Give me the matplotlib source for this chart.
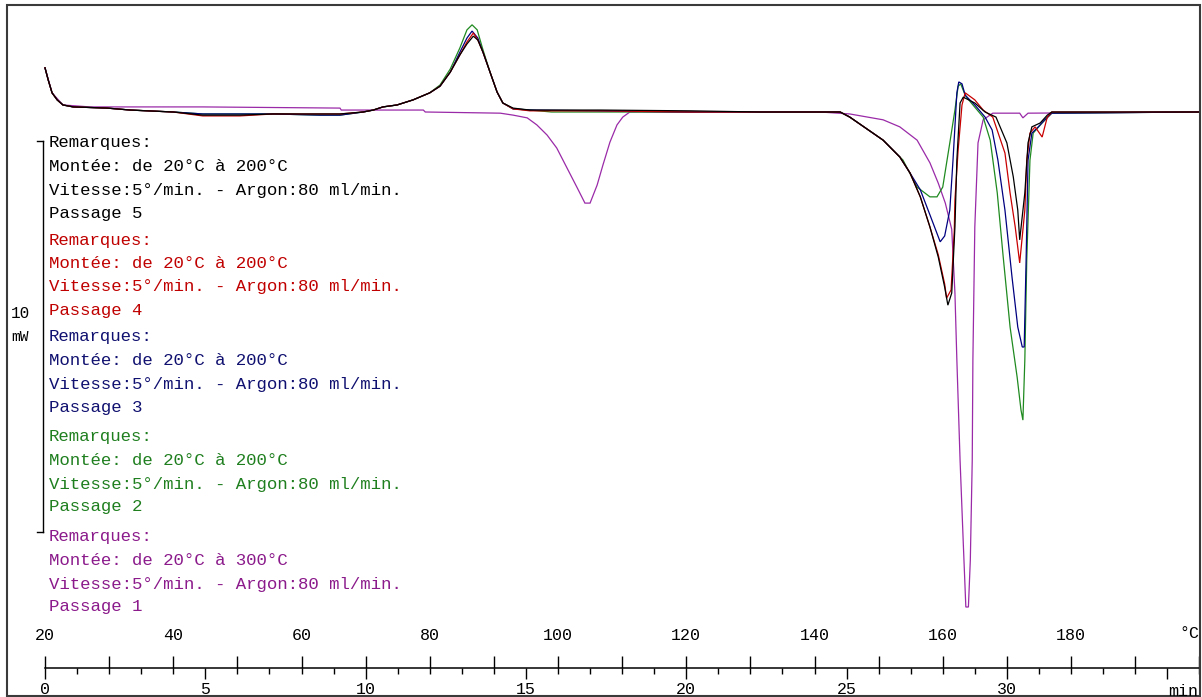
import matplotlib
matplotlib.use("Agg")
import matplotlib.pyplot as plt
from matplotlib.patches import Rectangle

plt.rcParams['font.family'] = ['Liberation Mono', 'DejaVu Sans']

# ---------------- data (temperature in °C, heat flow in mW, baseline = 0) ----------------
p5_T = [20.0, 20.5, 21.1, 21.9, 22.8, 24.4, 29.7, 33.3, 40.0, 44.6, 50.4, 55.6, 62.9, 66.0, 69.6,
        71.2, 72.7, 74.9, 77.4, 80.0, 81.6, 83.2, 84.7, 85.8, 86.8, 87.5, 88.3, 89.4, 90.5, 91.4,
        93.0, 95.6, 106.6, 120.6, 131.5, 144.0, 145.5, 150.7, 153.3, 154.9, 156.5, 158.0, 159.3,
        160.3, 160.8, 161.4, 161.9, 162.2, 162.7, 163.2, 165.0, 166.6, 168.3, 170.0, 171.0, 171.7,
        172.0, 172.8, 173.3, 173.9, 175.2, 176.3, 177.0, 200.0]
p5_mW = [1.13, 0.82, 0.49, 0.31, 0.18, 0.13, 0.10, 0.05, 0.00, -0.08, -0.08, -0.05, -0.05, -0.05, 0.00,
         0.05, 0.13, 0.18, 0.31, 0.49, 0.66, 1.02, 1.46, 1.74, 1.94, 1.84, 1.53, 1.02, 0.51, 0.23,
         0.10, 0.05, 0.05, 0.03, 0.00, 0.00, -0.13, -0.72, -1.15, -1.56, -2.17, -2.94, -3.71,
         -4.48, -4.94, -4.63, -2.94, -1.23, 0.23, 0.38, 0.23, 0.00, -0.13, -0.79, -1.66, -2.51,
         -3.27, -2.07, -0.79, -0.38, -0.28, -0.08, 0.00, 0.00]

p4_T = [20.0, 20.5, 21.1, 21.9, 22.8, 24.4, 29.7, 33.3, 40.0, 44.6, 50.4, 55.6, 62.9, 66.0, 69.6,
        71.2, 72.7, 74.9, 77.4, 80.0, 81.6, 83.2, 84.7, 85.8, 86.8, 87.5, 88.3, 89.4, 90.5, 91.4,
        93.0, 95.6, 106.6, 120.6, 131.5, 144.0, 145.5, 150.7, 153.3, 154.9, 156.5, 158.0, 159.3,
        160.3, 160.6, 161.3, 161.8, 161.9, 162.4, 163.0, 163.5, 165.0, 166.3, 167.8, 169.7, 170.5,
        171.3, 172.0, 172.8, 173.1, 173.6, 174.4, 175.5, 176.3, 177.0, 200.0]
p4_mW = [1.13, 0.82, 0.49, 0.31, 0.18, 0.13, 0.10, 0.05, 0.00, -0.10, -0.10, -0.05, -0.05, -0.05, 0.00,
         0.05, 0.13, 0.18, 0.31, 0.49, 0.66, 1.02, 1.46, 1.79, 2.02, 1.84, 1.53, 1.02, 0.51, 0.23,
         0.08, 0.03, 0.03, 0.00, 0.00, 0.00, -0.13, -0.72, -1.15, -1.56, -2.17, -2.94, -3.65,
         -4.40, -4.76, -4.55, -3.02, -2.25, -0.97, 0.18, 0.49, 0.31, 0.05, -0.13, -1.05, -2.07,
         -2.94, -3.86, -2.51, -1.23, -0.54, -0.38, -0.64, -0.13, 0.00, 0.00]

p3_T = [20.0, 20.5, 21.1, 21.9, 22.8, 24.4, 29.7, 33.3, 40.0, 44.6, 50.4, 55.6, 62.9, 66.0, 69.6,
        71.2, 72.7, 74.9, 77.4, 80.0, 81.6, 83.2, 84.7, 85.8, 86.6, 87.5, 88.3, 89.4, 90.5, 91.4,
        93.0, 95.6, 106.6, 120.6, 131.5, 144.0, 145.5, 150.7, 153.3, 154.9, 156.5, 158.0, 159.6,
        160.3, 161.1, 161.6, 162.2, 162.5, 163.0, 163.5, 165.0, 166.6, 167.7, 168.6, 169.7, 170.8,
        171.7, 172.4, 172.7, 173.0, 173.3, 173.9, 174.9, 175.9, 177.0, 200.0]
p3_mW = [1.13, 0.82, 0.49, 0.31, 0.18, 0.13, 0.10, 0.05, 0.00, -0.05, -0.05, -0.05, -0.08, -0.08, 0.00,
         0.05, 0.13, 0.18, 0.31, 0.49, 0.66, 1.02, 1.53, 1.89, 2.07, 1.89, 1.53, 1.02, 0.51, 0.23,
         0.08, 0.05, 0.03, 0.00, 0.00, 0.00, -0.13, -0.72, -1.15, -1.56, -1.99, -2.63, -3.32,
         -3.17, -2.51, -1.23, 0.49, 0.77, 0.72, 0.43, 0.18, -0.13, -0.46, -1.23, -2.51, -4.22,
         -5.50, -6.01, -6.01, -3.79, -1.23, -0.54, -0.38, -0.20, -0.03, 0.00]

p2_T = [20.0, 20.5, 21.1, 21.9, 22.8, 24.4, 29.7, 33.3, 40.0, 44.6, 50.4, 55.6, 62.9, 66.0, 69.6,
        71.2, 72.7, 74.9, 77.4, 80.0, 81.6, 83.2, 84.7, 85.8, 86.6, 87.4, 88.3, 89.4, 90.5, 91.4,
        93.0, 95.6, 99.0, 109.0, 120.6, 131.5, 144.0, 145.5, 150.7, 153.8, 156.0, 158.0, 159.1,
        160.0, 161.1, 161.9, 162.4, 162.8, 163.5, 164.3, 166.3, 167.4, 168.5, 169.4, 170.5, 171.6,
        172.2, 172.5, 172.8, 173.1, 173.6, 174.1, 175.5, 177.0, 200.0]
p2_mW = [1.13, 0.82, 0.49, 0.31, 0.18, 0.13, 0.10, 0.05, 0.00, -0.05, -0.05, -0.05, -0.08, -0.08, 0.00,
         0.05, 0.13, 0.18, 0.31, 0.49, 0.69, 1.10, 1.64, 2.10, 2.23, 2.10, 1.59, 1.02, 0.51, 0.23,
         0.08, 0.05, 0.00, 0.00, 0.00, 0.00, 0.00, -0.13, -0.72, -1.23, -1.92, -2.17, -2.17,
         -1.92, -0.79, 0.05, 0.66, 0.72, 0.43, 0.26, -0.13, -0.72, -2.07, -3.66, -5.50, -6.78,
         -7.62, -7.88, -6.34, -3.79, -1.23, -0.54, -0.28, -0.03, 0.00]

p1_T = [20.0, 21.1, 22.8, 27.0, 44.6, 66.0, 66.2, 79.0, 79.3, 91.0, 93.0, 95.2, 96.7, 98.3, 99.8,
        101.4, 103.0, 104.2, 105.0, 106.1, 107.0, 108.1, 109.2, 110.1, 111.2, 140.9, 145.5, 150.7,
        153.3, 156.0, 158.0, 159.3, 160.4, 161.4, 161.9, 162.2, 162.7, 163.2, 163.6, 164.0, 164.3,
        164.6, 164.7, 165.0, 165.5, 166.3, 167.8, 172.0, 172.5, 173.3, 200.0]
p1_mW = [1.13, 0.49, 0.18, 0.13, 0.13, 0.10, 0.05, 0.05, 0.00, -0.03, -0.08, -0.15, -0.33, -0.59, -0.92,
         -1.43, -1.94, -2.33, -2.33, -1.87, -1.36, -0.77, -0.33, -0.13, 0.00, 0.00, -0.05, -0.20,
         -0.38, -0.72, -1.30, -1.82, -2.33, -3.00, -4.63, -6.34, -8.90, -11.02, -12.66, -12.66, -11.46,
         -8.90, -6.34, -2.94, -0.79, -0.20, -0.03, -0.03, -0.15, -0.03, 0.00]

series_T = [p1_T, p2_T, p3_T, p4_T, p5_T]
series_mW = [p1_mW, p2_mW, p3_mW, p4_mW, p5_mW]
series_colors = ['#9a2aa8', '#1f8a1f', '#000080', '#c80000', '#000000']

passages = ['Passage 5', 'Passage 4', 'Passage 3', 'Passage 2', 'Passage 1']
montees = ['Montée: de 20°C à 200°C', 'Montée: de 20°C à 200°C', 'Montée: de 20°C à 200°C',
           'Montée: de 20°C à 200°C', 'Montée: de 20°C à 300°C']
remark_title = 'Remarques:'
vitesse = 'Vitesse:5°/min. - Argon:80 ml/min.'
text_colors = ['#000000', '#c00000', '#101070', '#1f7f1f', '#8b1a8b']

temp_major = [20, 40, 60, 80, 100, 120, 140, 160, 180, 200]
temp_labels = ['20', '40', '60', '80', '100', '120', '140', '160', '180', '']
temp_unit = '°C'
temp_minor = [30, 50, 70, 90, 110, 130, 150, 170, 190]
time_major = [0, 5, 10, 15, 20, 25, 30, 35]
time_labels = ['0', '5', '10', '15', '20', '25', '30', '']
time_unit = 'min'
time_minor = list(range(0, 37))
scale_mW = 10

# ---------------- layout ----------------
W, H = 1202, 697
X0_PX, T0 = 45, 20.0
PX_PER_DEG = 6.4125
Y0_PX = 112
PX_PER_MW = 39.1


def fx(px):
    return px / W


def fy(py):
    return 1 - py / H


fig = plt.figure(figsize=(W / 100, H / 100), dpi=100)
fig.patch.set_facecolor('white')

ax = fig.add_axes([0, 0, 1, 1])
ax.set_xlim(T0 - X0_PX / PX_PER_DEG, T0 + (W - X0_PX) / PX_PER_DEG)
ax.set_ylim(-(H - Y0_PX) / PX_PER_MW, Y0_PX / PX_PER_MW)
ax.axis('off')

for T, m, c in zip(series_T, series_mW, series_colors):
    ax.plot(T, m, color=c, lw=0.9, solid_joinstyle='miter')

# scale bar (10 mW)
sb_top = -0.74
sb_x = T0 + (43 - X0_PX) / PX_PER_DEG
sb_hook = T0 + (37 - X0_PX) / PX_PER_DEG
ax.plot([sb_x, sb_x], [sb_top, sb_top - scale_mW], color='black', lw=1.0)
ax.plot([sb_hook, sb_x], [sb_top, sb_top], color='black', lw=1.0)
ax.plot([sb_hook, sb_x], [sb_top - scale_mW, sb_top - scale_mW], color='black', lw=1.0)
fig.text(fx(20), fy(313), '10', ha='center', va='center', fontsize=11.5, color='black')
fig.text(fx(20), fy(337), 'mW', ha='center', va='center', fontsize=10.5, color='black')

# annotation blocks
block_y0 = [143, 240, 337, 437, 537]
line_dy = [0, 23.5, 47, 70]
for i in range(5):
    lines = [remark_title, montees[i], vitesse, passages[i]]
    for s, dy in zip(lines, line_dy):
        fig.text(fx(49), fy(block_y0[i] + dy), s, ha='left', va='center',
                 fontsize=12.5, color=text_colors[i])

# bottom axis strip
y_axis_px = 668
axb = fig.add_axes([0, fy(y_axis_px), 1, 1e-6])
axb.set_xlim(ax.get_xlim())
axb.patch.set_visible(False)
for s in ['left', 'right', 'top']:
    axb.spines[s].set_visible(False)
axb.spines['bottom'].set_bounds(20, 200)
axb.spines['bottom'].set_linewidth(1.1)
axb.yaxis.set_visible(False)
axb.xaxis.tick_top()
axb.set_xticks(temp_major, labels=temp_labels)
axb.set_xticks(temp_minor, minor=True)
axb.tick_params(axis='x', which='both', direction='out', length=8.6, width=1.0,
                top=True, bottom=False, labeltop=True, labelbottom=False, pad=9.5, labelsize=12)
fig.text(fx(1199), fy(634), temp_unit, ha='right', va='center', fontsize=12)

sec = axb.secondary_xaxis('bottom', functions=(lambda t: (t - 20) / 5, lambda m: 20 + 5 * m))
sec.spines['bottom'].set_visible(False)
sec.set_xticks(time_major, labels=time_labels)
sec.set_xticks(time_minor, minor=True)
sec.tick_params(axis='x', which='major', direction='out', length=8.0, width=1.0, pad=2, labelsize=12)
sec.tick_params(axis='x', which='minor', direction='out', length=4.3, width=1.0)
fig.text(fx(1198), fy(684), time_unit, ha='right', va='top', fontsize=12)

# outer frame
fig.add_artist(Rectangle((fx(7), fy(696)), (1200 - 7) / W, (696 - 5) / H, transform=fig.transFigure,
                         fill=False, ec='#3a3a3a', lw=1.5))

fig.savefig('out.png', dpi=100, facecolor='white')
